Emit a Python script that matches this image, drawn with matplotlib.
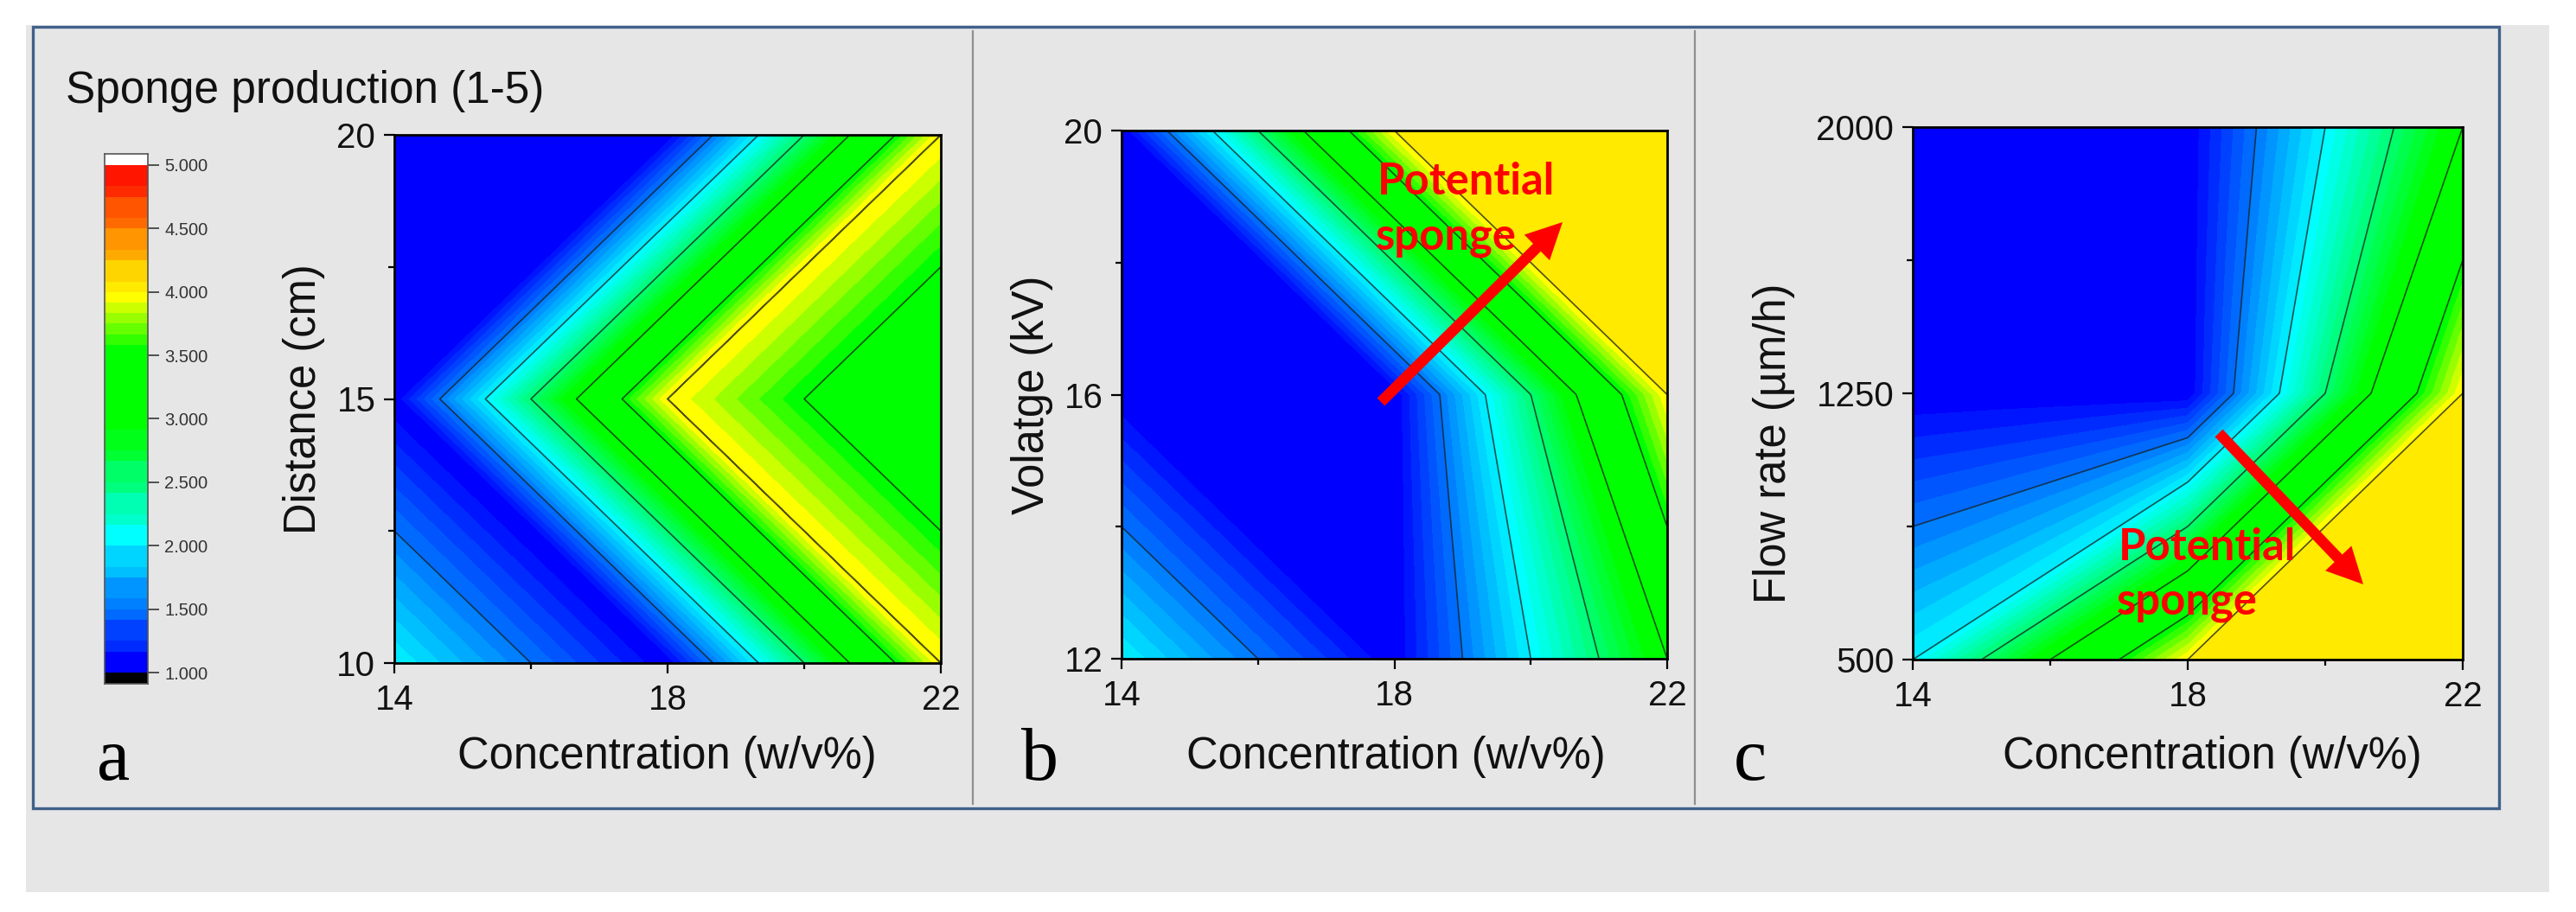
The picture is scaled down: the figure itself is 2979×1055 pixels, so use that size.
import numpy as np
import matplotlib
matplotlib.use('Agg')
import matplotlib.pyplot as plt
from matplotlib.colors import ListedColormap
from matplotlib.patches import Rectangle, FancyArrowPatch
from matplotlib.tri import Triangulation

W, H = 2979, 1055

conc = [14, 18, 22]
distance = [10, 15, 20]
voltage = [12, 16, 20]
flow = [500, 1250, 2000]

# sponge score, rows go from the lowest y value up
z_a = [[2, 1, 4], [1, 4, 3], [1, 1, 4]]
z_b = [[2, 1, 3], [1, 1, 4], [1, 4, 4]]
z_c = [[2, 4, 4], [1, 1, 4], [1, 1, 3]]

line_levels = [1.5, 2.0, 2.5, 3.0, 3.5, 4.0, 4.5]
bar_ticks = [1, 1.5, 2, 2.5, 3, 3.5, 4, 4.5, 5]
bar_labels = ['1.000', '1.500', '2.000', '2.500', '3.000', '3.500', '4.000', '4.500', '5.000']

# how the grid cells were split, as (col, row) nodes
tris_a = [[(0, 0), (1, 0), (0, 1)], [(1, 0), (1, 1), (0, 1)],
          [(1, 0), (2, 0), (1, 1)], [(2, 0), (2, 1), (1, 1)],
          [(0, 1), (1, 1), (1, 2)], [(0, 1), (1, 2), (0, 2)],
          [(1, 1), (2, 1), (2, 2)], [(1, 1), (2, 2), (1, 2)]]
tris_b = [[(0, 0), (1, 0), (0, 1)], [(1, 0), (1, 1), (0, 1)],
          [(0, 1), (1, 1), (0, 2)], [(1, 1), (1, 2), (0, 2)],
          [(1, 1), (2, 1), (1, 2)], [(2, 1), (2, 2), (1, 2)]]
tris_c = [[(1, 0), (2, 0), (2, 1)], [(1, 0), (2, 1), (1, 1)],
          [(0, 1), (1, 1), (1, 2)], [(0, 1), (1, 2), (0, 2)]]
# these cells have straight contours joining equal values on two boundary paths
strips_a = []
strips_b = [([(1, 1), (2, 1)], [(1, 0), (2, 0), (2, 1)])]
strips_c = [([(0, 1), (0, 0), (1, 0)], [(1, 1), (1, 0)]),
            ([(1, 2), (2, 2), (2, 1)], [(1, 1), (2, 1)])]

# 12 colour bands per unit, like the origin colour scale
band_edges = 1 + np.arange(49) / 12
lows = band_edges[:-1]
red = np.interp(lows, [3.5, 3.917, 5], [0, 255, 255])
green = np.interp(lows, [1, 2, 3.917, 4.917], [0, 255, 255, 0])
blue = np.interp(lows, [1, 2, 2.833], [255, 255, 0])
cmap = ListedColormap(np.column_stack([red, green, blue]) / 255)

plt.rcParams['font.family'] = ['Liberation Sans', 'DejaVu Sans']
plt.rcParams['axes.linewidth'] = 2.0


def px_axes(fig, left, top, right, bottom):
    return fig.add_axes([left / W, 1 - bottom / H, (right - left) / W, (bottom - top) / H])


def build_mesh(xs, ys, z, tris, strips):
    px = [xs[c] for r in range(3) for c in range(3)]
    py = [ys[r] for r in range(3) for c in range(3)]
    pz = [z[r][c] for r in range(3) for c in range(3)]
    triangles = [[n[1] * 3 + n[0] for n in t] for t in tris]
    for path_a, path_b in strips:
        ends = [z[n[1]][n[0]] for n in path_a]
        steps = np.linspace(ends[0], ends[-1], 121)
        start = len(px)
        for path in (path_a, path_b):
            vals = [z[n[1]][n[0]] for n in path]
            px.extend(np.interp(steps, vals, [xs[n[0]] for n in path]))
            py.extend(np.interp(steps, vals, [ys[n[1]] for n in path]))
            pz.extend(steps)
        k = len(steps)
        for i in range(k - 1):
            a0, a1 = start + i, start + i + 1
            b0, b1 = start + k + i, start + k + i + 1
            for t in ([a0, b0, b1], [a0, a1, b1]):
                area = (px[t[1]] - px[t[0]]) * (py[t[2]] - py[t[0]]) - (px[t[2]] - px[t[0]]) * (py[t[1]] - py[t[0]])
                if abs(area) > 1e-9:
                    triangles.append(t)
    return Triangulation(px, py, triangles), np.array(pz, dtype=float)


def contour_panel(fig, box, ys, z, tris, strips, yticks, yminor):
    ax = px_axes(fig, *box)
    tri, values = build_mesh(conc, ys, z, tris, strips)
    # flat areas sit on a level, nudge so they take the band above it
    ax.tricontourf(tri, values, levels=band_edges - 1e-6, cmap=cmap, vmin=1, vmax=5, antialiased=False)
    ax.tricontour(tri, values, levels=np.array(line_levels) - 1e-6, colors='#1a1a1a', linewidths=1.2, alpha=0.75)
    ax.set_xlim(conc[0], conc[-1])
    ax.set_ylim(ys[0], ys[-1])
    ax.set_xticks(conc)
    ax.set_xticks([16, 20], minor=True)
    ax.set_yticks(yticks)
    ax.set_yticks(yminor, minor=True)
    ax.tick_params(which='major', length=8.6, width=1.6, labelsize=29, labelcolor='#111111')
    ax.tick_params(axis='x', which='major', pad=8.6)
    ax.tick_params(axis='y', which='major', pad=7)
    ax.tick_params(which='minor', length=5, width=1.6)
    return ax


fig = plt.figure(figsize=(W / 100, H / 100), dpi=100)

# page furniture in pixel coordinates
page = fig.add_axes([0, 0, 1, 1], zorder=0)
page.set_xlim(0, W)
page.set_ylim(H, 0)
page.axis('off')
page.add_patch(Rectangle((30, 29), 2918, 1003, fc='#e6e6e6', ec='none'))
page.add_patch(Rectangle((38, 31), 2852, 904, fc='none', ec='#41608a', lw=2.4))
page.plot([1125, 1125], [36, 930], color='#8f8f8f', lw=1.6)
page.plot([1960, 1960], [36, 930], color='#8f8f8f', lw=1.6)

ax_a = contour_panel(fig, (456, 156, 1088, 767), distance, z_a, tris_a, strips_a, distance, [12.5, 17.5])
ax_b = contour_panel(fig, (1297, 151, 1928, 762), voltage, z_b, tris_b, strips_b, voltage, [14, 18])
ax_c = contour_panel(fig, (2212, 147, 2848, 763), flow, z_c, tris_c, strips_c, flow, [875, 1625])

# colour scale
ax_bar = px_axes(fig, 121, 178, 171, 791)
cap = 13 / (587 / 4)
ax_bar.pcolormesh([0, 1], band_edges, lows[:, None], cmap=cmap, vmin=1, vmax=5)
ax_bar.add_patch(Rectangle((0, 1 - cap), 1, cap, fc='black', ec='none'))
ax_bar.add_patch(Rectangle((0, 5), 1, cap, fc='white', ec='none'))
ax_bar.set_xlim(0, 1)
ax_bar.set_ylim(1 - cap, 5 + cap)
ax_bar.set_xticks([])
ax_bar.yaxis.tick_right()
ax_bar.set_yticks(bar_ticks)
ax_bar.set_yticklabels(bar_labels)
ax_bar.tick_params(axis='y', length=9, width=1.3, color='#444444', labelsize=14.5, pad=5, labelcolor='#333333')
for s in ax_bar.spines.values():
    s.set_linewidth(1.2)
    s.set_color('#555555')

# overlay for labels and arrows
top = fig.add_axes([0, 0, 1, 1], zorder=5)
top.set_xlim(0, W)
top.set_ylim(H, 0)
top.axis('off')
top.patch.set_alpha(0)

label_size = 36.5
top.text(76, 106, 'Sponge production (1-5)', fontsize=37, va='center', ha='left', color='#111111')
for cx in (771, 1614, 2558):
    top.text(cx, 875, 'Concentration (w/v%)', fontsize=label_size, va='center', ha='center', color='#111111')
top.text(351, 462, 'Distance (cm)', fontsize=label_size, rotation=90, va='center', ha='center', color='#111111')
top.text(1194, 457, 'Volatge (kV)', fontsize=label_size, rotation=90, va='center', ha='center', color='#111111')
top.text(2052, 513, 'Flow rate (\u00b5m/h)', fontsize=label_size, rotation=90, va='center', ha='center', color='#111111')

for lx, letter in zip((112, 1181, 2005), 'abc'):
    top.text(lx, 902, letter, fontsize=62, family='Liberation Serif', va='baseline', ha='left', color='black')

for (lx, y1, y2) in ((1593, 225, 289), (2450, 648, 711)):
    top.text(lx, y1, 'Potential', fontsize=36.5, family='Lato', fontweight='bold', color='#ff0000', va='baseline')
    top.text(lx - 2, y2, 'sponge', fontsize=36.5, family='Lato', fontweight='bold', color='#ff0000', va='baseline')

for tail, tip in (((1597, 465), (1807, 257)), ((2566, 501), (2733, 676))):
    top.add_patch(FancyArrowPatch(tail, tip, arrowstyle='simple,head_length=30,head_width=30,tail_width=9',
                                  mutation_scale=1, color='#ff0000', lw=0, shrinkA=0, shrinkB=0))

fig.savefig('out.png', dpi=100, facecolor='white')
